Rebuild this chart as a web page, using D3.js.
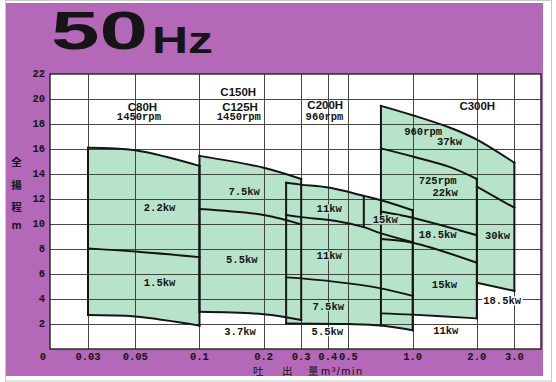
<!DOCTYPE html>
<html><head><meta charset="utf-8">
<script src="https://cdn.jsdelivr.net/npm/d3@7"></script>
<style>body{margin:0;background:#fff}svg{display:block}</style>
</head><body>
<script>
// ---------- data ----------
const xTickValues = [0, 0.03, 0.05, 0.1, 0.2, 0.3, 0.4, 0.5, 1.0, 2.0, 3.0];
const xTickLabels = ["0", "0.03", "0.05", "0.1", "0.2", "0.3", "0.4", "0.5", "1.0", "2.0", "3.0"];
const yTickValues = [2, 4, 6, 8, 10, 12, 14, 16, 18, 20, 22];
const yTickLabels = ["2", "4", "6", "8", "10", "12", "14", "16", "18", "20", "22"];

// C80H (1450rpm)
const c80Top = [[0.03, 16.1], [0.05, 15.9], [0.1, 14.65]];
const c80Mid = [[0.03, 8.05], [0.05, 7.8], [0.1, 7.35]];
const c80Bottom = [[0.03, 2.72], [0.05, 2.6], [0.1, 1.87]];
// C125H / C150H (1450rpm)
const c125Top = [[0.1, 15.45], [0.2, 14.5], [0.3, 13.6]];
const c125Mid = [[0.1, 11.2], [0.2, 10.72], [0.3, 9.97]];
const c125Bottom = [[0.1, 2.98], [0.2, 2.78], [0.3, 2.32]];
// C200H (960rpm)
const c200Top = [[0.255, 13.3], [0.3, 13.15], [0.41, 12.9], [0.59, 12.25], [0.71, 11.9], [1.0, 11.1]];
const c200Div1 = [[0.255, 10.72], [0.3, 10.55], [0.45, 10.2], [0.59, 9.75], [0.71, 9.25], [1.0, 8.55]];
const c200Div2 = [[0.255, 5.73], [0.3, 5.65], [0.5, 5.25], [0.71, 4.85], [1.0, 4.25]];
const c200Bottom = [[0.255, 2.05], [0.5, 2.0], [0.71, 1.88], [1.0, 1.5]];
// C300H (960 / 725rpm)
const c300Top = [[0.71, 19.45], [1.0, 18.7], [1.5, 17.7], [2.0, 16.75], [3.0, 14.9]];
const c300Rpm = [[0.71, 16.05], [1.0, 15.4], [1.5, 14.55], [2.0, 13.6]];
const c300Kw30Top = [[2.0, 13.0], [3.0, 11.3]];
const c300Kw30Bottom = [[2.0, 5.3], [3.0, 4.65]];
const c300Div1 = [[0.71, 11.0], [1.0, 10.5], [2.0, 9.1]];
const c300Div2 = [[0.71, 8.8], [1.0, 8.5], [2.0, 6.9]];
const c300Bottom = [[0.71, 2.85], [1.0, 2.75], [2.0, 2.45]];

// model headers: text, flow, head
const modelLabels = [
  ["C80H", 0.054, 19.38], ["C150H", 0.152, 20.54], ["C125H", 0.155, 19.38],
  ["C200H", 0.389, 19.52], ["C300H", 2.01, 19.44]
];
const rpmLabels = [
  ["1450rpm", 0.052, 18.54], ["1450rpm", 0.153, 18.54], ["960rpm", 0.386, 18.58],
  ["960rpm", 1.12, 17.34], ["725rpm", 1.31, 13.45]
];
// motor power labels: text, flow, head, inside region?
const kwLabels = [
  ["2.2kw", 0.065, 11.3, true], ["1.5kw", 0.065, 5.26, true],
  ["7.5kw", 0.162, 12.58, true], ["5.5kw", 0.158, 7.12, true], ["3.7kw", 0.155, 1.36, false],
  ["11kw", 0.406, 11.2, true], ["11kw", 0.406, 7.44, true], ["7.5kw", 0.402, 3.38, true],
  ["5.5kw", 0.398, 1.38, false], ["15kw", 0.744, 10.32, true],
  ["37kw", 1.49, 16.58, true], ["22kw", 1.42, 12.52, true], ["18.5kw", 1.31, 9.12, true],
  ["30kw", 2.5, 9.04, true], ["15kw", 1.41, 5.12, true], ["18.5kw", 2.63, 3.86, false],
  ["11kw", 1.43, 1.44, false]
];

// ---------- layout ----------
const W = 556, H = 382;
const plot = {left: 50, right: 541, top: 74, bottom: 349};
const purple = "#b468b8", green = "#b8e3cb", ink = "#151515";
const mono = "'Liberation Mono', 'Courier New', monospace";
const sans = "'Liberation Sans', Arial, sans-serif";
const cjk = "'Noto Sans CJK JP', 'Noto Sans CJK SC', sans-serif";

const svg = d3.select("body").append("svg").attr("width", W).attr("height", H);

const xLog = d3.scaleLog().domain([0.03, 4]).range([88, plot.right]);
const X = v => v <= 0 ? plot.left : xLog(v);
const Y = d3.scaleLinear().domain([0, 22]).range([plot.bottom, plot.top]);

// frame and panel
svg.append("rect").attr("x", 5.5).attr("y", 0.5).attr("width", 546).attr("height", 380.5)
  .attr("fill", "#fff").attr("stroke", "#c8c8c8");
svg.append("rect").attr("x", 6).attr("y", 3).attr("width", 537).attr("height", 373).attr("fill", purple);

// title
svg.append("text").attr("x", 51).attr("y", 49).attr("font-family", sans).attr("font-weight", "bold")
  .attr("font-size", 53.5).attr("fill", ink).attr("textLength", 97).attr("lengthAdjust", "spacingAndGlyphs").text("50");
svg.append("text").attr("x", 152).attr("y", 53).attr("font-family", sans).attr("font-weight", "bold")
  .attr("font-size", 36).attr("fill", ink).attr("textLength", 61).attr("lengthAdjust", "spacingAndGlyphs").text("Hz");

// plot background
svg.append("rect").attr("x", plot.left).attr("y", plot.top)
  .attr("width", plot.right - plot.left).attr("height", plot.bottom - plot.top).attr("fill", "#fff");

const line = d3.line().x(d => X(d[0])).y(d => Y(d[1])).curve(d3.curveCatmullRom.alpha(0.5));
const rev = pts => pts.slice().reverse();
const cont = pts => "L" + line(pts).slice(1);

// fills
const fills = svg.append("g").attr("fill", green).attr("stroke", "none");
[[c80Top, c80Bottom], [c125Top, c125Bottom], [c200Top, c200Bottom]].forEach(([t, b]) => {
  fills.append("path").attr("d", line(t) + cont(rev(b)) + "Z");
});
fills.append("path").attr("d",
  line(c300Top) + cont(rev(c300Kw30Bottom)) + "L" + X(c300Bottom[c300Bottom.length - 1][0]) + "," +
  Y(c300Bottom[c300Bottom.length - 1][1]) + cont(rev(c300Bottom)) + "Z");

// grid
const grid = svg.append("g").attr("stroke", "#2a2a2a").attr("stroke-width", 1).attr("opacity", 0.85);
yTickValues.slice(0, -1).forEach(v => {
  grid.append("line").attr("x1", plot.left).attr("x2", plot.right)
    .attr("y1", Math.round(Y(v)) + 0.5).attr("y2", Math.round(Y(v)) + 0.5);
});
xTickValues.slice(1).forEach(v => {
  grid.append("line").attr("y1", plot.top).attr("y2", plot.bottom)
    .attr("x1", Math.round(X(v)) + 0.5).attr("x2", Math.round(X(v)) + 0.5);
});
svg.append("rect").attr("x", plot.left).attr("y", plot.top)
  .attr("width", plot.right - plot.left).attr("height", plot.bottom - plot.top)
  .attr("fill", "none").attr("stroke", "#222").attr("stroke-width", 1.4);

// curves
const curves = [c80Top, c80Mid, c80Bottom, c125Top, c125Mid, c125Bottom,
  c200Top, c200Div1, c200Div2, c200Bottom,
  c300Top, c300Rpm, c300Kw30Top, c300Kw30Bottom, c300Div1, c300Div2, c300Bottom];
const outl = svg.append("g").attr("fill", "none").attr("stroke", ink).attr("stroke-width", 2).attr("stroke-linecap", "square");
curves.forEach(c => outl.append("path").attr("d", line(c)));

// vertical edges: pairs of end points
const first = a => a[0], last = a => a[a.length - 1];
const at = (a, v) => a.find(p => p[0] === v);
const edges = [
  [first(c80Top), first(c80Bottom)], [last(c80Top), last(c80Bottom)],
  [first(c125Top), first(c125Bottom)], [last(c125Top), last(c125Bottom)],
  [first(c200Top), first(c200Bottom)], [last(c200Top), last(c200Bottom)],
  [at(c200Top, 0.59), at(c200Div1, 0.59)],
  [first(c300Top), at(c200Bottom, 0.71)],
  [last(c300Rpm), last(c300Bottom)],
  [last(c300Top), last(c300Kw30Bottom)]
];
edges.forEach(([p, q]) => outl.append("line")
  .attr("x1", X(p[0])).attr("x2", X(q[0])).attr("y1", Y(p[1])).attr("y2", Y(q[1])));

// labels with background
function label(g, txt, xv, yv, font, size, bg) {
  const t = g.append("text").attr("x", X(xv)).attr("y", Y(yv)).attr("text-anchor", "middle")
    .attr("dominant-baseline", "central").attr("font-family", font).attr("font-weight", "bold")
    .attr("font-size", size).attr("fill", ink).text(txt);
  if (bg) {
    const b = t.node().getBBox();
    g.insert("rect", () => t.node()).attr("x", b.x - 1).attr("y", b.y + 1.5)
      .attr("width", b.width + 2).attr("height", b.height - 3).attr("fill", bg);
  }
}
const lab = svg.append("g");
modelLabels.forEach(([t, x, y]) => label(lab, t, x, y, sans, 11.5, null));
rpmLabels.forEach(([t, x, y]) => label(lab, t, x, y, mono, 10.5, null));
kwLabels.forEach(([t, x, y, inside]) => label(lab, t, x, y, mono, 10.5, inside ? green : "#fff"));

// axis tick labels
const ax = svg.append("g").attr("font-family", mono).attr("font-weight", "bold").attr("fill", ink);
xTickValues.forEach((v, i) => {
  ax.append("text").attr("x", v === 0 ? plot.left - 7 : X(v)).attr("y", 356.5)
    .attr("text-anchor", "middle").attr("dominant-baseline", "central").attr("font-size", 10.5).text(xTickLabels[i]);
});
yTickValues.forEach((v, i) => {
  ax.append("text").attr("x", 45).attr("y", Y(v)).attr("text-anchor", "end")
    .attr("dominant-baseline", "central").attr("font-size", 10.5).text(yTickLabels[i]);
});

// axis titles
const yTitle = ["全", "揚", "程", "m"];
const yTitleHeads = [15, 13.2, 11.4, 10];
yTitle.forEach((c, i) => svg.append("text").attr("x", 16.5).attr("y", Y(yTitleHeads[i]))
  .attr("text-anchor", "middle").attr("dominant-baseline", "central")
  .attr("font-family", cjk).attr("font-weight", "bold").attr("font-size", 10.5).attr("fill", ink).text(c));

const xt = svg.append("g").attr("font-family", cjk).attr("font-size", 10.5).attr("fill", ink);
const xTitleParts = [["吐", 253], ["出", 282], ["量", 308]];
xTitleParts.forEach(([c, px]) => xt.append("text").attr("x", px).attr("y", 370.5)
  .attr("dominant-baseline", "central").text(c));
xt.append("text").attr("x", 321).attr("y", 370.5).attr("dominant-baseline", "central")
  .attr("font-family", sans).attr("font-size", 11).attr("textLength", 41).attr("lengthAdjust", "spacing").text("m³/min");
</script>
</body></html>
